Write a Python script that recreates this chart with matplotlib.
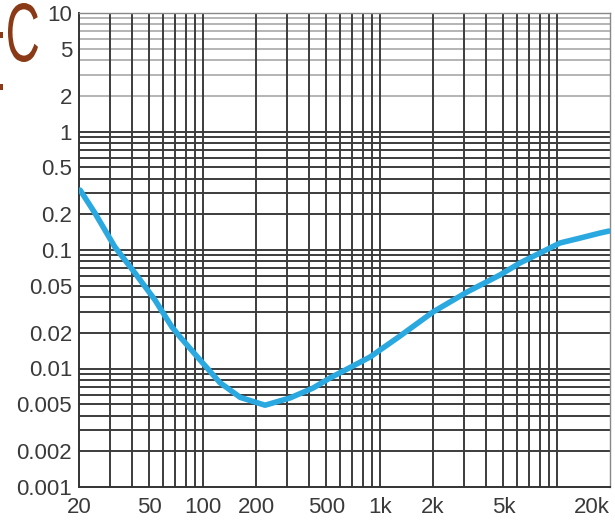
import numpy as np
import matplotlib
matplotlib.use('Agg')
import matplotlib.pyplot as plt
from matplotlib.textpath import TextPath
from matplotlib.patches import PathPatch, Rectangle
from matplotlib.font_manager import FontProperties, findfont
from matplotlib.transforms import Affine2D, IdentityTransform

# ---- data ----
freq = [20.3, 24.6, 31.9, 41.4, 53.7, 67.0, 74.4, 96.6, 125, 163, 225, 311,
        420, 524, 882, 1302, 2000, 3114, 4783, 6194, 8050, 10430, 13520,
        17540, 19720]
thd = [0.32, 0.205, 0.106, 0.064, 0.0379, 0.0224, 0.0185, 0.0118, 0.0076,
       0.0057, 0.0049, 0.00564, 0.00684, 0.00832, 0.0125, 0.0188, 0.030,
       0.0442, 0.0616, 0.0777, 0.0944, 0.1146, 0.126, 0.139, 0.1445]

x_ticks = [20, 50, 100, 200, 500, 1000, 2000, 5000, 20000]
x_labels = ['20', '50', '100', '200', '500', '1k', '2k', '5k', '20k']
y_ticks = [0.001, 0.002, 0.005, 0.01, 0.02, 0.05, 0.1, 0.2, 0.5, 1, 2, 5, 10]
y_labels = ['0.001', '0.002', '0.005', '0.01', '0.02', '0.05', '0.1', '0.2',
            '0.5', '1', '2', '5', '10']

plt.rcParams['font.family'] = ['Liberation Sans', 'DejaVu Sans']

W, H = 615, 523
fig = plt.figure(figsize=(W / 100, H / 100), dpi=100)
ax = fig.add_axes([79 / W, (H - 487) / H, (610 - 79) / W, (487 - 13) / H])
ax.set_xscale('log')
ax.set_yscale('log')
ax.set_xlim(20, 20000)
ax.set_ylim(0.001, 10)

# grid: dark lines at every 1..9 of each decade, lighter in the top decade
grid_dark = '#3c3c3c'
for dec in [0.001, 0.01, 0.1, 1]:
    for m in range(1, 10):
        v = dec * m
        if v <= 0.001 or v >= 10:
            continue
        col = '#b4b4b4' if v > 1 else grid_dark
        ax.axhline(v, color=col, lw=1.4, zorder=1)
for dec in [10, 100, 1000, 10000]:
    for m in range(1, 10):
        v = dec * m
        if v <= 20 or v >= 20000:
            continue
        ax.axvline(v, color=grid_dark, lw=1.4, zorder=1)

ax.plot(freq, thd, color='#2aa8e0', lw=4.0, solid_capstyle='round',
        solid_joinstyle='round', zorder=3)

ax.minorticks_off()
ax.set_xticks(x_ticks)
ax.set_xticklabels(x_labels)
ax.set_yticks(y_ticks)
ax.set_yticklabels(y_labels)
ax.tick_params(length=0, labelsize=16, labelcolor='#3a3a3a')
ax.tick_params(axis='x', pad=7)
ax.tick_params(axis='y', pad=5)
ax.get_xticklabels()[-1].set_horizontalalignment('right')
for side in ['left', 'bottom']:
    ax.spines[side].set_color('#333333')
    ax.spines[side].set_linewidth(1.4)
for side in ['top', 'right']:
    ax.spines[side].set_color('#888888')
    ax.spines[side].set_linewidth(1.0)

# cropped brown heading "C" at top-left
brown = '#8a3a16'
try:
    findfont(FontProperties(family='Liberation Sans Narrow'), fallback_to_default=False)
    cfont = FontProperties(family='Liberation Sans Narrow')
except Exception:
    cfont = FontProperties(family='Liberation Sans')
tp = TextPath((0, 0), 'C', size=1, prop=cfont)
bb = tp.get_extents()
x0, x1, ytop, ybot = 8, 38, 3, 62
tr = (Affine2D().translate(-bb.x0, -bb.y0)
      .scale((x1 - x0) / bb.width, (ybot - ytop) / bb.height)
      .translate(x0, H - ybot))
fig.add_artist(PathPatch(tp, transform=tr + IdentityTransform(),
                         facecolor=brown, edgecolor='none'))
fig.add_artist(Rectangle((0, H - 38), 3, 6, transform=IdentityTransform(),
                         facecolor=brown, edgecolor='none'))
fig.add_artist(Rectangle((0, H - 90), 3, 6, transform=IdentityTransform(),
                         facecolor=brown, edgecolor='none'))

fig.savefig('out.png', dpi=100)
